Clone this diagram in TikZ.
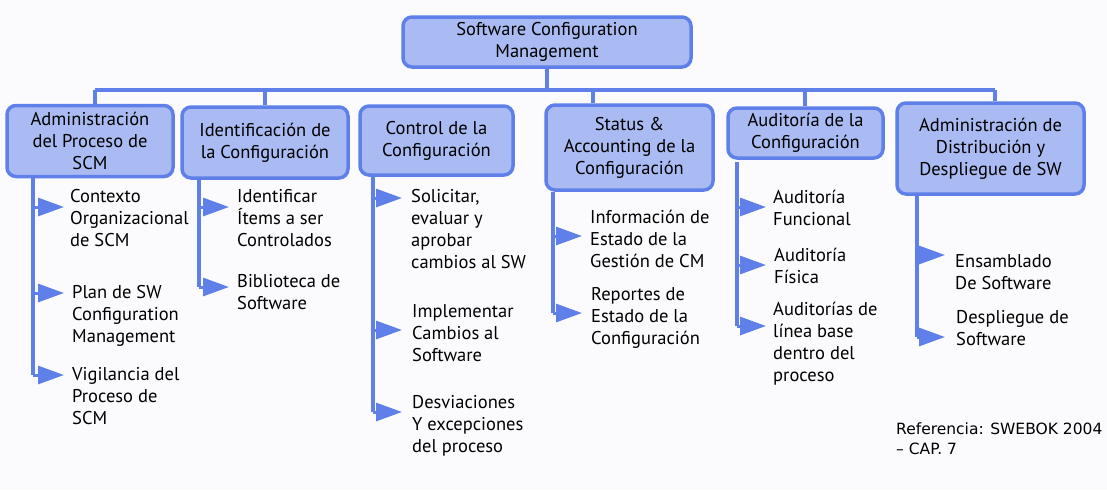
\documentclass[tikz,border=0pt]{standalone}
\usepackage{fontspec}
\setmainfont{PT Sans}
\newfontfamily\reffont{DejaVu Sans}
\usetikzlibrary{arrows.meta}
\definecolor{boxfill}{RGB}{169,187,242}
\definecolor{bord}{RGB}{94,128,232}
\definecolor{bg}{RGB}{251,251,253}
\tikzset{
  cbox/.style={draw=bord, fill=boxfill, line width=3.5pt, rounded corners=9pt, inner sep=0pt, align=center, font=\fontsize{18.5}{22}\selectfont},
  item/.style={anchor=north west, inner sep=0pt, align=left, font=\fontsize{18.5}{22}\selectfont},
  conn/.style={draw=bord, line width=4pt},
  arr/.style={draw=bord, line width=3pt, -{Triangle[length=26pt,width=18pt]}},
}
\begin{document}
\begin{tikzpicture}[x=1pt,y=-1pt]
\fill[bg] (0,0) rectangle (1107,490);
\useasboundingbox (0,0) rectangle (1107,490);
% top
\node[cbox, minimum width=288pt, minimum height=50pt] (top) at (547,42) {Software Configuration\\Management};
% children
\node[cbox, minimum width=166pt, minimum height=71pt] (b1) at (90,141) {Administración\\del Proceso de\\SCM};
\node[cbox, minimum width=166pt, minimum height=71pt] (b2) at (265,142.5) {Identificación de\\la Configuración};
\node[cbox, minimum width=153pt, minimum height=69pt] (b3) at (436.5,140.5) {Control de la\\Configuración};
\node[cbox, minimum width=167pt, minimum height=85pt] (b4) at (629.5,147.5) {Status \&\\Accounting de la\\Configuración};
\node[cbox, minimum width=155pt, minimum height=50pt] (b5) at (805.5,133) {Auditoría de la\\Configuración};
\node[cbox, minimum width=187pt, minimum height=91pt] (b6) at (990.5,148.5) {Administración de\\Distribución y\\Despliegue de SW};
% bus
\coordinate (busL) at (95,90);
\coordinate (busR) at (995,90);
\draw[conn] (busL) -- (busR);
\draw[conn] (top.south) -- (top.south |- busL);
\coordinate (s1) at (95,90);
\coordinate (s2) at (265,90);
\coordinate (s4) at (593,90);
\coordinate (s5) at (805,90);
\coordinate (s6) at (995,90);
\draw[conn] (s1) -- (s1 |- b1.north);
\draw[conn] (s2) -- (s2 |- b2.north);
\draw[conn] (s4) -- (s4 |- b4.north);
\draw[conn] (s5) -- (s5 |- b5.north);
\draw[conn] (s6) -- (s6 |- b6.north);
% column 1
\coordinate (v1) at (33,0);
\node[item] (i11) at (70,189) {Contexto\\Organizacional\\de SCM};
\node[item] (i12) at (72,285) {Plan de SW\\Configuration\\Management};
\node[item] (i13) at (72,367) {Vigilancia del\\Proceso de\\SCM};
\coordinate (a11) at (64,207);
\coordinate (a12) at (64,293);
\coordinate (a13) at (64,375);
\draw[conn] (v1 |- b1.south) -- (v1 |- a13);
\draw[arr] (v1 |- a11) -- (a11);
\draw[arr] (v1 |- a12) -- (a12);
\draw[arr] (v1 |- a13) -- (a13);
% column 2
\coordinate (v2) at (199,0);
\node[item] (i21) at (237,189) {Identificar\\Ítems a ser\\Controlados};
\node[item] (i22) at (237,274) {Biblioteca de\\Software};
\coordinate (a21) at (229,207);
\coordinate (a22) at (229,287);
\draw[conn] (v2 |- b2.south) -- (v2 |- a22);
\draw[arr] (v2 |- a21) -- (a21);
\draw[arr] (v2 |- a22) -- (a22);
% column 3
\coordinate (v3) at (373,0);
\node[item] (i31) at (411,189) {Solicitar,\\evaluar y\\aprobar\\cambios al SW};
\node[item] (i32) at (412,304) {Implementar\\Cambios al\\Software};
\node[item] (i33) at (412,395) {Desviaciones\\Y excepciones\\del proceso};
\coordinate (a31) at (402,198);
\coordinate (a32) at (402,330);
\coordinate (a33) at (402,412);
\draw[conn] (v3 |- b3.south) -- (v3 |- a33);
\draw[arr] (v3 |- a31) -- (a31);
\draw[arr] (v3 |- a32) -- (a32);
\draw[arr] (v3 |- a33) -- (a33);
% column 4
\coordinate (v4) at (553,0);
\node[item] (i41) at (590,210) {Información de\\Estado de la\\Gestión de CM};
\node[item] (i42) at (591,287) {Reportes de\\Estado de la\\Configuración};
\coordinate (a41) at (582,236);
\coordinate (a42) at (582,313);
\draw[conn] (v4 |- b4.south) -- (v4 |- a42);
\draw[arr] (v4 |- a41) -- (a41);
\draw[arr] (v4 |- a42) -- (a42);
% column 5
\coordinate (v5) at (737,0);
\coordinate (v5top) at (737,162);
\node[item] (i51) at (773,190) {Auditoría\\Funcional};
\node[item] (i52) at (774,248) {Auditoría\\Física};
\node[item] (i53) at (773,302) {Auditorías de\\línea base\\dentro del\\proceso};
\coordinate (a51) at (766,207);
\coordinate (a52) at (766,265);
\coordinate (a53) at (766,326);
\draw[conn] (v5top) -- (v5 |- a53);
\draw[arr] (v5 |- a51) -- (a51);
\draw[arr] (v5 |- a52) -- (a52);
\draw[arr] (v5 |- a53) -- (a53);
% column 6
\coordinate (v6) at (917,0);
\node[item] (i61) at (955,254) {Ensamblado\\De Software};
\node[item] (i62) at (956,310) {Despliegue de\\Software};
\coordinate (a61) at (945,255);
\coordinate (a62) at (945,337);
\draw[conn] (v6 |- b6.south) -- (v6 |- a62);
\draw[arr] (v6 |- a61) -- (a61);
\draw[arr] (v6 |- a62) -- (a62);
% reference
\node[anchor=north west, inner sep=0pt, align=left, font=\reffont\fontsize{15.5}{20}\selectfont] (ref) at (896,423) {Referencia: SWEBOK 2004\\– CAP. 7};
\end{tikzpicture}
\end{document}
